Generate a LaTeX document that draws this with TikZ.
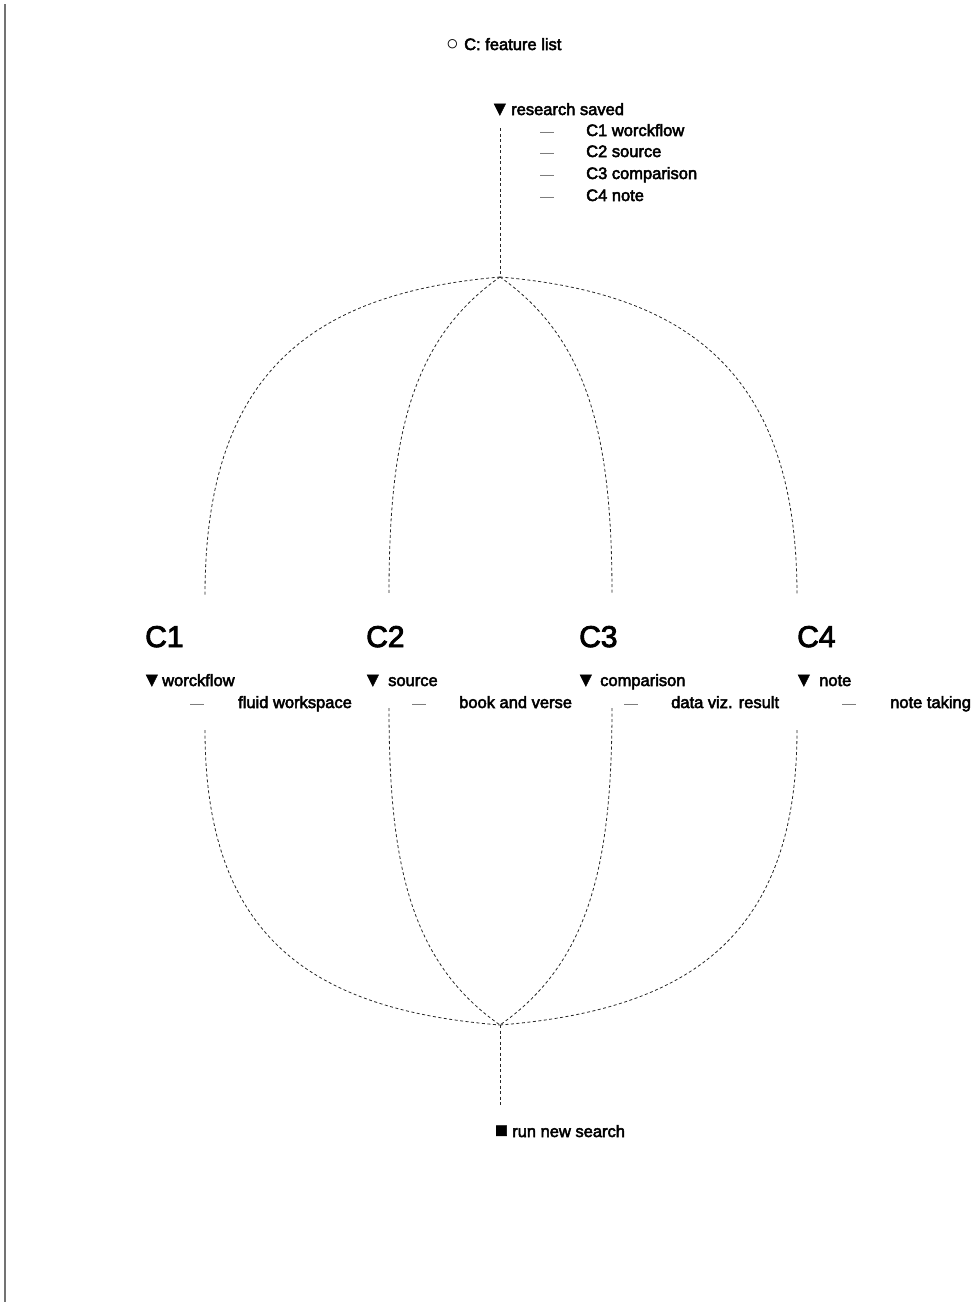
\documentclass[tikz,border=0pt]{standalone}
\usepackage{fontspec}
\newfontfamily\uifont{Liberation Sans}[BoldFont=Liberation Sans, BoldFeatures={FakeBold=3}]
\newcommand\ui{\uifont\bfseries}
\newcommand\tri{\hspace{-3pt}{\fontsize{19.5}{19.5}\selectfont ▼}}
\newcommand\sqbox{{\fontsize{21}{21}\selectfont ■}}
\newcommand\ring{{\mdseries\fontsize{21}{21}\selectfont ○}}
\newcommand\dashmark[1]{\makebox[#1][l]{\color{black!55}\mdseries\fontsize{14}{14}\selectfont —}}
\begin{document}
\begin{tikzpicture}[x=1pt,y=-1pt,
  lbl/.style={anchor=base west, inner sep=0pt, font=\ui\fontsize{16.5}{19}\selectfont},
  head/.style={anchor=base west, inner sep=0pt, font=\ui\fontsize{30}{34}\selectfont},
  link/.style={draw=black!85, line width=0.8pt, dash pattern=on 3pt off 2.5pt},
  rule/.style={draw=black!55, line width=2pt}]
\useasboundingbox (0,0) rectangle (979,1302);

% margin rule
\coordinate (ruletop) at (4.5,4);
\coordinate (rulebot) at (4.5,1302);
\draw[rule] (ruletop) -- (rulebot);

% title and saved list
\node[lbl] (title) at (446,50) {\makebox[18pt][l]{\ring}C: feature list};
\node[lbl] (saved) at (493,115) {\makebox[18pt][l]{\tri}research saved};
\node[lbl] (s1) at (540,136) {\dashmark{46pt}C1 worckflow};
\node[lbl] (s2) at (540,157) {\dashmark{46pt}C2 source};
\node[lbl] (s3) at (540,179) {\dashmark{46pt}C3 comparison};
\node[lbl] (s4) at (540,201) {\dashmark{46pt}C4 note};

% columns
\node[head] (C1) at (145,647) {C1};
\node[head] (C2) at (366,647) {C2};
\node[head] (C3) at (579,647) {C3};
\node[head] (C4) at (797,647) {C4};

\node[lbl] (k1) at (145,686) {\makebox[17pt][l]{\tri}worckflow};
\node[lbl] (k2) at (366,686) {\makebox[22pt][l]{\tri}source};
\node[lbl] (k3) at (579,686) {\makebox[21pt][l]{\tri}comparison};
\node[lbl] (k4) at (797,686) {\makebox[22pt][l]{\tri}note};

\node[lbl] (d1) at (190,708) {\dashmark{48pt}fluid workspace};
\node[lbl] (d2) at (412,708) {\dashmark{47pt}book and verse};
\node[lbl] (d3) at (624,708) {\dashmark{47pt}data viz. result};
\node[lbl] (d4) at (842,708) {\dashmark{48pt}note taking};

\node[lbl] (run) at (495,1137) {\makebox[17pt][l]{\sqbox}run new search};

% junctions and curve ends
\coordinate (stemtop) at (500,128);
\coordinate (top) at (500,277);
\coordinate (bot) at (500,1025);
\coordinate (stembot) at (500,1107);
\coordinate (c1t) at (205,595);
\coordinate (c1b) at (205,730);
\coordinate (c2t) at (389,595);
\coordinate (c2b) at (389,708);
\coordinate (c3t) at (612,595);
\coordinate (c3b) at (612,708);
\coordinate (c4t) at (797,595);
\coordinate (c4b) at (797,730);

% stems
\draw[link] (stemtop) -- (top);
\draw[link] (bot) -- (stembot);

% upper arcs
\draw[link] (top) .. controls +(-185,16) and +(0,-225) .. (c1t);
\draw[link] (top) .. controls +(-90,63) and +(0,-155) .. (c2t);
\draw[link] (top) .. controls +(90,63) and +(0,-155) .. (c3t);
\draw[link] (top) .. controls +(185,16) and +(0,-225) .. (c4t);

% lower arcs
\draw[link] (c1b) .. controls +(0,210) and +(-185,-15) .. (bot);
\draw[link] (c2b) .. controls +(0,155) and +(-90,-63) .. (bot);
\draw[link] (c3b) .. controls +(0,155) and +(90,-63) .. (bot);
\draw[link] (c4b) .. controls +(0,210) and +(185,-15) .. (bot);
\end{tikzpicture}
\end{document}
